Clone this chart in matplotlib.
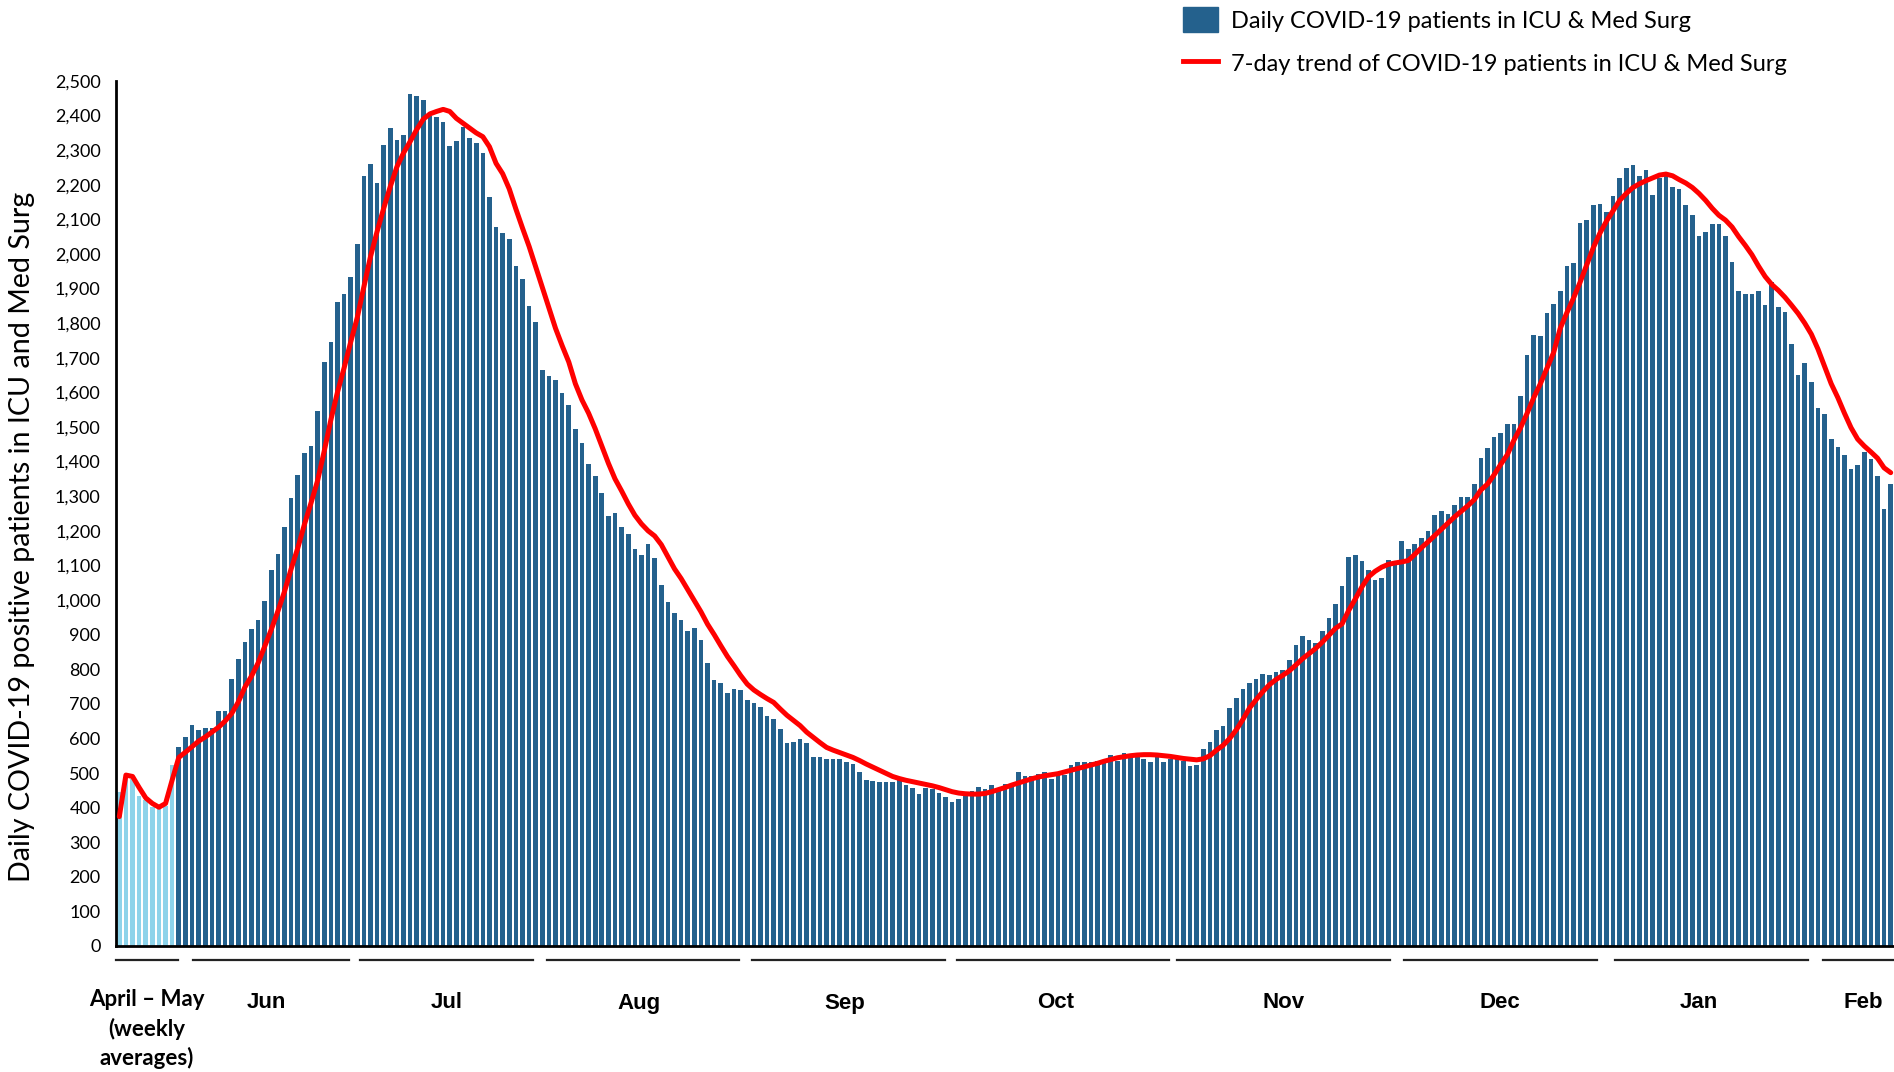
import numpy as np
import matplotlib
matplotlib.use('Agg')
import matplotlib.pyplot as plt
from matplotlib.transforms import blended_transform_factory
from matplotlib.ticker import FuncFormatter
from matplotlib.patches import Patch
from matplotlib.lines import Line2D

# april - may weekly averages (light bars)
weekly_avg = [446, 488, 482, 434, 422, 401, 401, 405, 523]

# daily patients from june 1st onwards, one chunk per month-ish
daily_jun = [576, 605, 639, 624, 629, 629, 678, 678, 773, 829, 880, 917, 942, 996,
             1086, 1134, 1210, 1296, 1362, 1425, 1445, 1545, 1689, 1746, 1862, 1885, 1934]
daily_jul = [2029, 2225, 2260, 2204, 2315, 2365, 2329, 2344, 2461, 2457, 2445, 2399, 2397,
             2381, 2312, 2327, 2366, 2334, 2320, 2293, 2164, 2077, 2060, 2043, 1965, 1927, 1851]
daily_aug = [1803, 1664, 1646, 1636, 1599, 1563, 1493, 1453, 1394, 1357, 1310, 1242, 1251,
             1212, 1192, 1148, 1130, 1162, 1122, 1042, 995, 963, 943, 911, 919, 883, 819,
             770, 761, 731, 743, 741, 712, 702, 690, 665, 655, 626]
daily_sep_oct = [588, 590, 598, 587, 545, 545, 540, 540, 540, 533,
                 527, 503, 479, 477, 475, 473, 473, 480, 465, 456,
                 438, 457, 455, 443, 432, 415, 424, 441, 448, 460,
                 454, 465, 451, 468, 460, 503, 492, 492, 496, 503,
                 484, 494, 494, 522, 532, 532, 532, 536, 536, 552,
                 536, 557, 555, 545, 540, 532, 545, 532, 540, 540,
                 534, 519, 523, 569, 590, 624]
daily_nov_dec = [635, 688, 716, 743, 759, 771, 785, 784, 791, 798,
                 827, 871, 897, 885, 875, 911, 949, 989, 1040, 1123,
                 1130, 1114, 1088, 1058, 1064, 1117, 1114, 1170, 1148, 1162,
                 1178, 1199, 1246, 1256, 1249, 1275, 1299, 1297, 1335, 1409,
                 1440, 1472, 1482, 1508, 1508, 1591, 1708, 1765, 1763, 1830,
                 1855, 1893]
daily_jan_feb = [1965, 1973, 2091, 2098, 2142, 2145, 2122, 2169, 2221, 2248,
                 2256, 2225, 2243, 2171, 2219, 2225, 2193, 2188, 2142, 2113,
                 2052, 2064, 2087, 2086, 2052, 1978, 1893, 1883, 1884, 1893,
                 1853, 1920, 1848, 1831, 1740, 1650, 1684, 1630, 1556, 1539,
                 1465, 1443, 1419, 1378, 1390, 1428, 1407, 1358, 1262, 1334]

# 7-day trend line, one value per bar
trend = [374, 494, 490, 458, 428, 412, 401, 412, 480, 545,
         560, 576, 592, 604, 618, 632, 650, 672, 705, 748,
         780, 818, 866, 915, 968, 1025, 1090, 1150, 1218, 1280,
         1345, 1430, 1520, 1600, 1670, 1745, 1816, 1905, 1992, 2065,
         2132, 2195, 2252, 2292, 2325, 2360, 2390, 2405, 2412, 2418,
         2412, 2392, 2378, 2364, 2350, 2339, 2310, 2262, 2232, 2188,
         2130, 2075, 2022, 1963, 1905, 1845, 1785, 1735, 1688, 1625,
         1578, 1540, 1495, 1445, 1395, 1350, 1315, 1278, 1245, 1220,
         1200, 1185, 1160, 1125, 1090, 1062, 1030, 998, 966, 930,
         900, 868, 837, 810, 782, 757, 740, 727, 715, 704,
         685, 667, 652, 637, 618, 603, 588, 574, 566, 559,
         552, 545, 536, 526, 517, 508, 499, 490, 484, 479,
         475, 471, 467, 463, 458, 452, 446, 442, 440, 439,
         439, 441, 446, 452, 458, 465, 471, 477, 483, 488,
         492, 495, 498, 503, 508, 513, 518, 523, 528, 534,
         539, 544, 547, 550, 552, 553, 553, 552, 550, 548,
         545, 542, 540, 538, 541, 550, 566, 580, 600, 625,
         655, 688, 712, 735, 755, 770, 782, 795, 812, 830,
         845, 860, 878, 898, 918, 931, 970, 1003, 1038, 1067,
         1083, 1095, 1103, 1107, 1110, 1114, 1132, 1151, 1168, 1186,
         1204, 1222, 1240, 1256, 1272, 1290, 1318, 1335, 1362, 1392,
         1420, 1462, 1498, 1540, 1585, 1625, 1670, 1715, 1785, 1830,
         1872, 1918, 1968, 2018, 2060, 2095, 2125, 2155, 2175, 2192,
         2203, 2212, 2220, 2228, 2231, 2226, 2215, 2205, 2192, 2175,
         2155, 2132, 2112, 2098, 2078, 2050, 2025, 1998, 1965, 1935,
         1912, 1895, 1875, 1852, 1828, 1800, 1768, 1725, 1675, 1625,
         1585, 1540, 1498, 1465, 1445, 1428, 1410, 1382, 1368]

month_labels = ['April \u2013 May\n(weekly\naverages)', 'Jun', 'Jul', 'Aug', 'Sep',
                'Oct', 'Nov', 'Dec', 'Jan', 'Feb']

# layout for the month axis (in bar units)
month_span_start = [-0.5, 11.1, 36.4, 64.7, 95.7, 126.7, 160.0, 194.4, 226.3, 257.7]
month_span_end = [8.9, 34.7, 62.6, 93.8, 124.9, 158.8, 192.2, 223.6, 255.5, 270.0]
month_label_x = [4.2, 22.3, 49.6, 78.6, 109.8, 141.7, 176.1, 208.9, 239.0, 263.9]

daily = daily_jun + daily_jul + daily_aug + daily_sep_oct + daily_nov_dec + daily_jan_feb
n_weekly = len(weekly_avg)
n_total = n_weekly + len(daily)

W, H = 1894, 1072
dark_blue = '#24618D'
light_blue = '#8DD3EA'

fig = plt.figure(figsize=(W / 100, H / 100), dpi=100)
ax = fig.add_axes([116 / W, 126 / H, 1778 / W, 865 / H])

ax.bar(range(n_weekly), weekly_avg, width=0.7, color=light_blue, zorder=2)
ax.bar(range(n_weekly, n_total), daily, width=0.7, color=dark_blue, zorder=2)
ax.plot(range(n_total), trend, color='#FF0000', lw=3.6, solid_joinstyle='round',
        solid_capstyle='round', zorder=3, clip_on=False)

ax.set_xlim(-0.5, n_total - 0.5)
ax.set_ylim(0, 2500)
ax.set_yticks(np.arange(0, 2501, 100))
ax.yaxis.set_major_formatter(FuncFormatter(lambda v, p: f'{int(v):,}'))
ax.set_xticks([])
ax.tick_params(axis='y', length=0, pad=11, labelsize=13)
for lab in ax.get_yticklabels():
    lab.set_fontfamily(['Lato', 'DejaVu Sans'])

for s in ['top', 'right']:
    ax.spines[s].set_visible(False)
for s in ['left', 'bottom']:
    ax.spines[s].set_linewidth(2)
    ax.spines[s].set_color('black')

# y axis title
fig.text(22 / W, 1 - 537 / H, 'Daily COVID-19 positive patients in ICU and Med Surg',
         rotation=90, ha='center', va='center', fontsize=20.6,
         family=['Lato', 'DejaVu Sans'])

# month segments and labels below the axis
trans = blended_transform_factory(ax.transData, fig.transFigure)
for start, end in zip(month_span_start, month_span_end):
    ax.plot([start, end], [1 - 960 / H, 1 - 960 / H], transform=trans, color='#222222',
            lw=1.6, clip_on=False)
for i, (lab, x) in enumerate(zip(month_labels, month_label_x)):
    if i == 0:
        ax.text(x, 1 - 1029 / H, lab, transform=trans, ha='center', va='center',
                fontsize=16, fontweight='bold', linespacing=1.4,
                family=['Lato', 'DejaVu Sans'])
    else:
        ax.text(x, 1 - 1003 / H, lab, transform=trans, ha='center', va='center',
                fontsize=16, fontweight='bold', family=['Liberation Sans', 'DejaVu Sans'])

# legend
handles = [Patch(color=dark_blue), Line2D([], [], color='#FF0000', lw=3.5)]
labels = ['Daily COVID-19 patients in ICU & Med Surg',
          '7-day trend of COVID-19 patients in ICU & Med Surg']
fig.legend(handles, labels, loc='upper left', bbox_to_anchor=(1178 / W, 1 - 2 / H),
           frameon=False, prop={'family': ['Lato', 'DejaVu Sans'], 'size': 17},
           handlelength=1.5, handleheight=1.3, handletextpad=0.55,
           labelspacing=0.75, borderaxespad=0, borderpad=0.2)

fig.savefig('out.png', dpi=100)
